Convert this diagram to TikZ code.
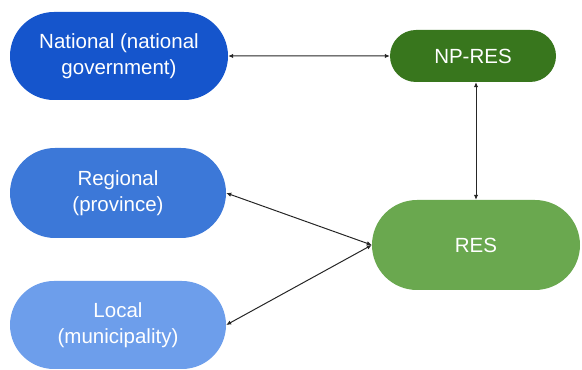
\documentclass[tikz,border=0pt]{standalone}
\usepackage{fontspec}
\setmainfont{Liberation Sans}
\usepackage{tikz}
\usetikzlibrary{shapes.misc,arrows.meta,positioning,calc}
\usepackage{xcolor}
\definecolor{natblue}{RGB}{21,85,204}
\definecolor{regblue}{RGB}{60,120,216}
\definecolor{locblue}{RGB}{109,158,235}
\definecolor{npgreen}{RGB}{56,118,29}
\definecolor{resgreen}{RGB}{106,168,79}

\tikzset{
  level/.style={rounded rectangle, draw=none, text=white, align=center, inner sep=2pt, font=\fontsize{20.5}{26}\selectfont},
  link/.style={{Latex[length=5pt,width=4.5pt]}-{Latex[length=5pt,width=4.5pt]}, line width=1pt, black!85}
}

\begin{document}
\begin{tikzpicture}[x=1pt,y=1pt]
\useasboundingbox (0,0) rectangle (582,370);
\node[level, fill=natblue, minimum width=222pt, minimum height=88pt] (national) at (119,314) {National (national\\government)};
\node[level, fill=regblue, minimum width=220pt, minimum height=90pt] (regional) at (118,177) {Regional\\(province)};
\node[level, fill=locblue, minimum width=220pt, minimum height=88pt] (local) at (118,45) {Local\\(municipality)};
\node[level, fill=npgreen, minimum width=170pt, minimum height=52pt] (npres) at (473,314) {NP-RES};
\node[level, fill=resgreen, minimum width=212pt, minimum height=90pt] (res) at (476,125) {RES};

\draw[link] (national) -- (npres);
\draw[link] (res.north) -- (res.north |- npres.south);
\draw[link] (regional.east) -- (res.west);
\draw[link] (local.east) -- (res.west);
\end{tikzpicture}
\end{document}
